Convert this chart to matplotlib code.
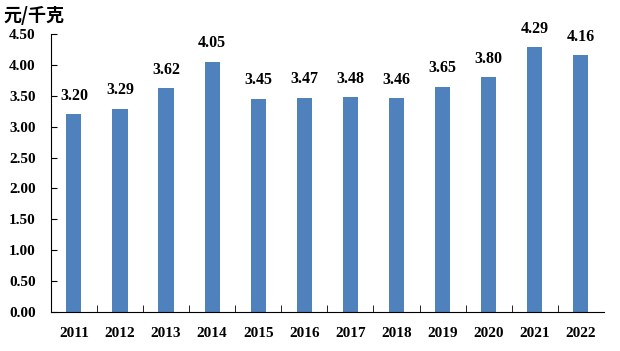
import numpy as np
import matplotlib.pyplot as plt

years = ['2011', '2012', '2013', '2014', '2015', '2016',
         '2017', '2018', '2019', '2020', '2021', '2022']
prices = [3.20, 3.29, 3.62, 4.05, 3.45, 3.47, 3.48, 3.46, 3.65, 3.80, 4.29, 4.16]
yticks = [0.0, 0.5, 1.0, 1.5, 2.0, 2.5, 3.0, 3.5, 4.0, 4.5]

serif = ['Liberation Serif', 'DejaVu Serif']

fig = plt.figure(figsize=(6.2, 3.51), dpi=100)
ax = fig.add_axes([0.082, 0.111, 0.892, 0.792])

x = np.arange(len(years))
ax.bar(x, prices, width=0.33, color='#4f81bd', zorder=2)

for xi, v in zip(x, prices):
    ax.text(xi, v + 0.17, f'{v:.2f}', ha='center', va='bottom',
            fontsize=11.5, fontweight='bold', family=serif)

ax.set_xlim(-0.5, len(years) - 0.5)
ax.set_ylim(0, 4.5)
ax.set_yticks(yticks)
ax.set_yticklabels([f'{t:.2f}' for t in yticks], fontsize=11,
                   fontweight='bold', family=serif)
ax.set_xticks(x)
ax.set_xticklabels(years, fontsize=11, fontweight='bold', family=serif)
ax.tick_params(axis='x', length=0, pad=11)
ax.set_xticks(np.arange(0.5, len(years) - 0.5, 1), minor=True)
ax.tick_params(axis='x', which='minor', direction='in', length=5)
ax.tick_params(axis='y', direction='in', length=4, pad=11)

ax.spines['top'].set_visible(False)
ax.spines['right'].set_visible(False)

fig.text(0.005, 0.955, '元/千克', fontsize=13, fontweight='bold',
         family=['Noto Sans CJK SC', 'DejaVu Sans'], va='center')

fig.savefig('out.png', dpi=100)
